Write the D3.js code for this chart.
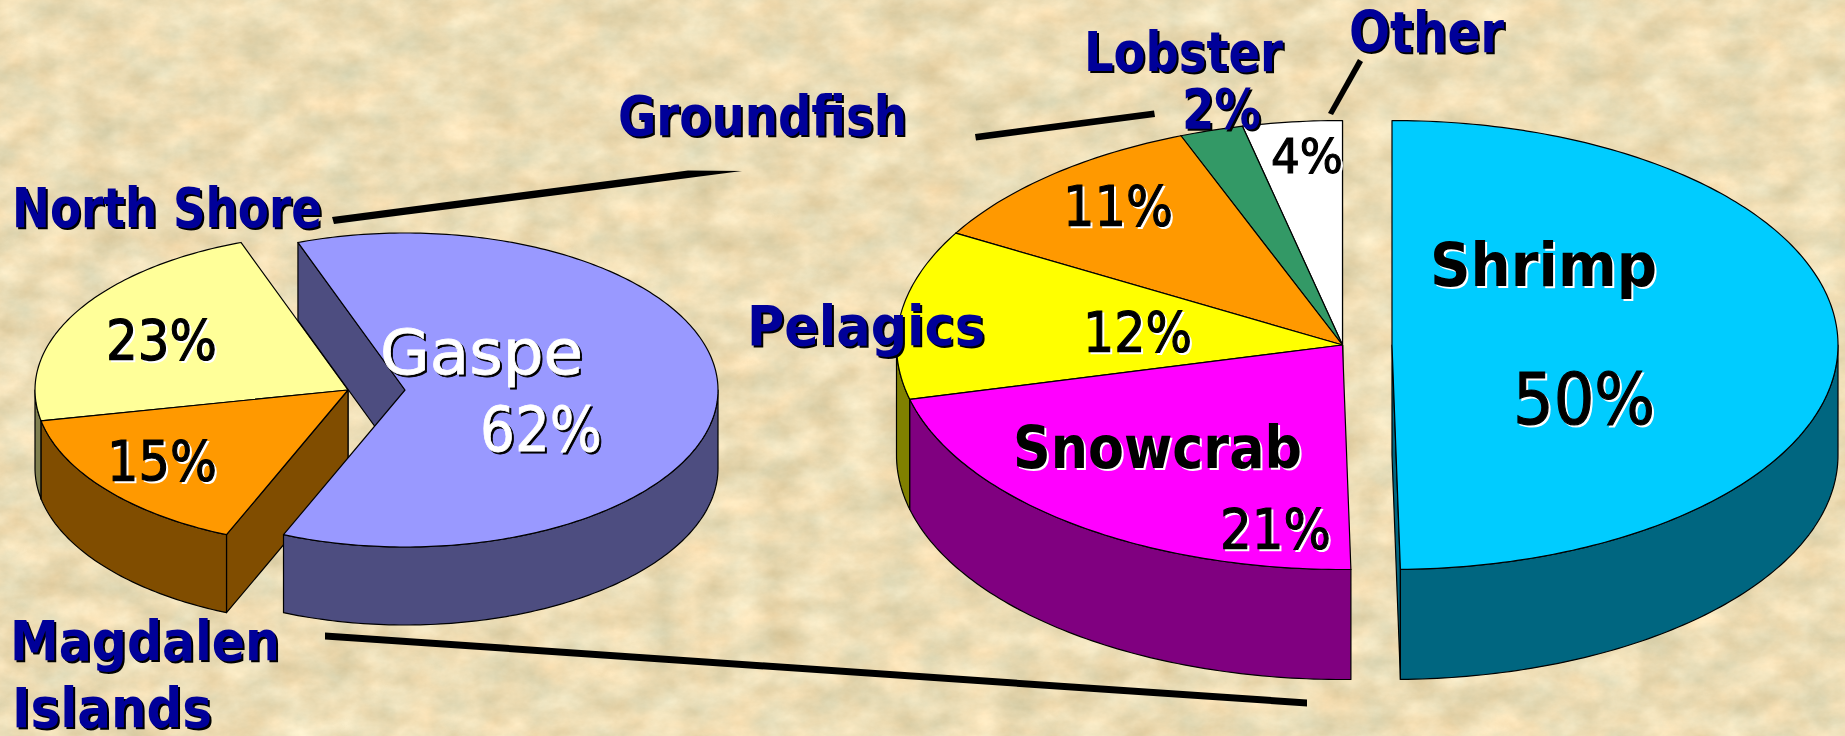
<!DOCTYPE html>
<html><head><meta charset="utf-8">
<script src="https://cdn.jsdelivr.net/npm/d3@7/dist/d3.min.js"></script>
<style>html,body{margin:0;padding:0;background:#e8d6ae;overflow:hidden}svg{display:block}</style>
</head><body>
<svg id="chart" width="1845" height="736"></svg>
<script>
// ---- data ----
const regionNames = ["Gaspe","Magdalen Islands","North Shore"];
const regionValues = [61.9,15.5,22.6];
const regionLabels = ["62%","15%","23%"];
const regionFill = ["#9999ff","#ff9900","#ffff99"];
const regionWall = ["#4d4d80","#804d00","#808050"];

const speciesNames = ["Shrimp","Snowcrab","Pelagics","Groundfish","Lobster","Other"];
const speciesValues = [49.7,21.4,12.2,10.8,2.3,3.6];
const speciesLabels = ["50%","21%","12%","11%","2%","4%"];
const speciesFill = ["#00ccff","#ff00ff","#ffff00","#ff9900","#339966","#ffffff"];
const speciesWall = ["#006680","#800080","#808000","#804d00","#1a4d33","#808080"];

const W=1845,H=736;
const svg=d3.select("#chart");
const defs=svg.append("defs");

// parchment texture
const f=defs.append("filter").attr("id","parch").attr("x",0).attr("y",0).attr("width","100%").attr("height","100%")
  .attr("color-interpolation-filters","sRGB");
f.append("feTurbulence").attr("type","fractalNoise").attr("baseFrequency","0.025 0.035").attr("numOctaves",6).attr("seed",11).attr("result","n");
f.append("feColorMatrix").attr("in","n").attr("type","matrix").attr("values",
 "0.20 0 0 0 0.825  0.16 0.08 0 0 0.745  0.16 0.14 0 0 0.56  0 0 0 0 1");
svg.append("rect").attr("width",W).attr("height",H).attr("filter","url(#parch)");

const TAU=2*Math.PI;
const line=d3.line();

function drawPie(cfg){
  const x=d3.scaleLinear().domain([-1,1]).range([-cfg.rx,cfg.rx]);
  const y=d3.scaleLinear().domain([-1,1]).range([-cfg.ry,cfg.ry]);
  const arcs=d3.pie().sort(null).startAngle(cfg.start).endAngle(cfg.start+TAU)(cfg.values);
  const g=svg.append("g");
  cfg.order.forEach(i=>{
    const a=arcs[i];
    const off=cfg.offset[i]||[0,0];
    const cx=cfg.cx+off[0], cy=cfg.cy+off[1];
    const pt=(t,d=0)=>[cx+x(Math.sin(t)),cy+y(-Math.cos(t))+d];
    const steps=(t0,t1)=>d3.range(0,1.0001,1/Math.max(2,Math.ceil(Math.abs(t1-t0)*60))).map(u=>t0+(t1-t0)*u);
    const sg=g.append("g");
    const style=s=>s.attr("stroke","#000").attr("stroke-width",1.2).attr("stroke-linejoin","round");
    // cut faces: only the ones that turn towards the viewer
    const face=t=>style(sg.append("path")).attr("fill",cfg.wall[i])
        .attr("d",line([[cx,cy],pt(t),pt(t,cfg.depth),[cx,cy+cfg.depth]])+"Z");
    if(Math.sin(a.startAngle)<0) face(a.startAngle);
    if(Math.sin(a.endAngle)>0) face(a.endAngle);
    // outer wall (front half of the ellipse only)
    [[a.startAngle,a.endAngle],[a.startAngle+TAU,a.endAngle+TAU],[a.startAngle-TAU,a.endAngle-TAU]].forEach(([s,e])=>{
      const lo=Math.max(s,Math.PI/2), hi=Math.min(e,3*Math.PI/2);
      if(hi>lo){
        const ts=steps(lo,hi);
        const top=ts.map(t=>pt(t));
        const bot=ts.slice().reverse().map(t=>pt(t,cfg.depth));
        style(sg.append("path")).attr("fill",cfg.wall[i]).attr("d",line(top.concat(bot))+"Z");
      }
    });
    // top face
    style(sg.append("path")).attr("fill",cfg.fill[i])
      .attr("d",line([[cx,cy]].concat(steps(a.startAngle,a.endAngle).map(t=>pt(t))))+"Z");
  });
}

// angles measured clockwise from the top of the ellipse
drawPie({cx:348,cy:390,rx:313,ry:157,depth:78,start:340*Math.PI/180,values:regionValues,
  fill:regionFill,wall:regionWall,order:[2,1,0],offset:{0:[57,0]}});
drawPie({cx:1342.5,cy:345,rx:446,ry:224.5,depth:110,start:0,values:speciesValues,
  fill:speciesFill,wall:speciesWall,order:[5,4,3,2,1,0],offset:{0:[49.5,0]}});

// leader lines
const leaders=[
 {pts:[[332,217],[688,170.5],[742,171],[334,224]]},
 {pts:[[975,134],[1154,110.5],[1155,117],[976,140.5]]},
 {pts:[[1358,59],[1363,62],[1333,115],[1328,113]]},
 {pts:[[325,632.5],[1307,699.5],[1307,706.5],[325,639.5]]}
];
svg.append("g").selectAll("path").data(leaders).join("path").attr("fill","#000").attr("d",d=>line(d.pts)+"Z");

// text
const FONT="'DejaVu Sans',Tahoma,sans-serif";
const navy="#000099";
const textSpec=[
 // text, left, right, baseline, size, weight, fill, shadow, shadow offset, stroke width
 [regionNames[2],12,322,226.5,55,700,navy,"#000",2,0],
 ["Groundfish",618,907,135,55,700,navy,"#000",2,0],
 [speciesNames[4],1084,1283,71,55,700,navy,"#000",2,0],
 [speciesNames[5],1349,1504,51.5,57,700,navy,"#000",2,0],
 [speciesLabels[4],1182,1261,127.5,55,700,navy,"#000",2,0],
 [speciesNames[2],747,985,345,55,700,navy,"#000",2,0],
 ["Magdalen",10,280,660,55,700,navy,"#000",2,0],
 ["Islands",12,212,727,55,700,navy,"#000",2,0],
 [regionLabels[2],106,217,358.5,55,400,"#000","#fff",2,1.2],
 [regionLabels[1],107,217,479.5,55,400,"#000","#fff",2,1.2],
 [regionNames[0],380,583,373.5,63,400,"#fff","#000",2,0.8],
 [regionLabels[0],480,602,451,62,400,"#fff","#000",2,0.8],
 [speciesLabels[5],1271,1343,172.5,48,400,"#000","#fff",2,1.2],
 [speciesLabels[3],1063,1173,225,56,400,"#000","#fff",2,1.2],
 [speciesLabels[2],1083,1192,350.5,55,400,"#000","#fff",2,1.2],
 [speciesNames[1],1013,1302,468,58,700,"#000","#fff",2,0],
 [speciesLabels[1],1220,1331,548,56,400,"#000","#fff",2,1.2],
 [speciesNames[0],1430,1657,285.5,60,700,"#000","#fff",2,0],
 [speciesLabels[0],1513,1655,424,72,400,"#000","#fff",2,1.2]
];
svg.append("g").attr("font-family",FONT).selectAll("text").data(textSpec).join("text")
  .attr("x",d=>d[1]).attr("y",d=>d[3]).attr("font-size",d=>d[4]).attr("font-weight",d=>d[5])
  .attr("fill",d=>d[6]).attr("stroke",d=>d[9]?d[6]:"none").attr("stroke-width",d=>d[9])
  .attr("textLength",d=>d[2]-d[1]).attr("lengthAdjust","spacingAndGlyphs")
  .style("filter",d=>`drop-shadow(${d[8]}px ${d[8]}px 0 ${d[7]})`)
  .text(d=>d[0]);
</script>
</body></html>
